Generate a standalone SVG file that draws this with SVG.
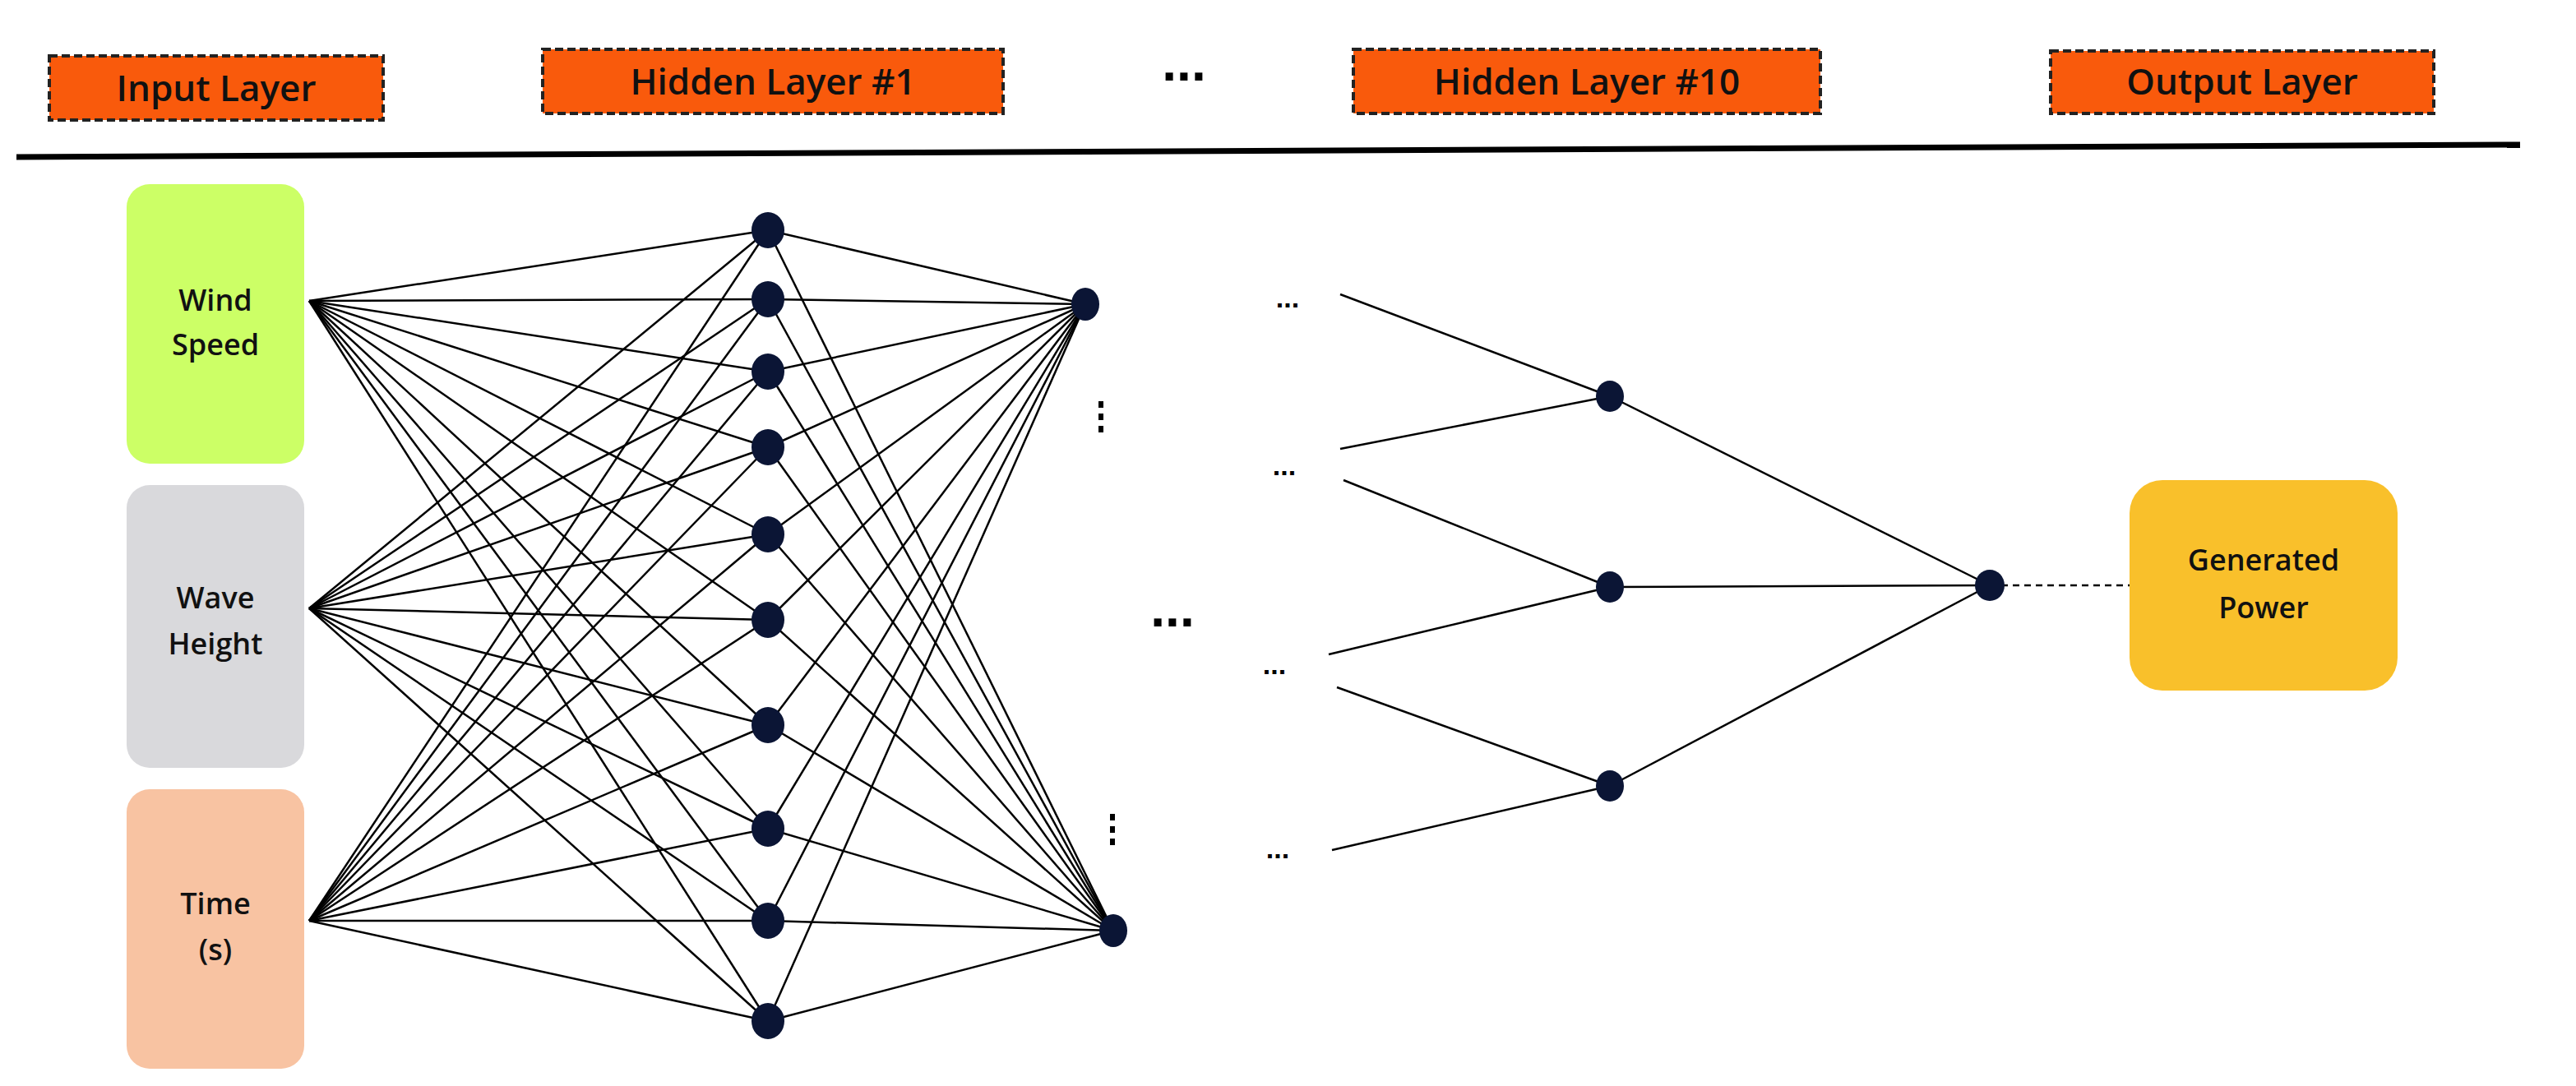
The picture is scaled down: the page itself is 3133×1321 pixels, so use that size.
<svg xmlns="http://www.w3.org/2000/svg" width="3133" height="1321" viewBox="0 0 3133 1321">
<style>
.hdr{fill:#F95A0C;stroke:#222;stroke-width:4;stroke-dasharray:10 5}
.ht{font-family:"Open Sans","Liberation Sans",sans-serif;font-size:44px;font-weight:600;fill:#111;text-anchor:middle}
.lt{font-family:"Open Sans","Liberation Sans",sans-serif;font-size:36px;font-weight:600;fill:#111;text-anchor:middle}
.dots{font-family:"Liberation Sans",sans-serif;font-weight:bold;fill:#000;text-anchor:middle}
.n{fill:#0B1535}
#edges line{stroke:#000;stroke-width:2.5}
</style>
<rect width="3133" height="1321" fill="#fff"/>
<g id="headers">
<g id="h-input"><rect class="hdr" x="60" y="68" width="406" height="78"/><text class="ht" x="263" y="123">Input Layer</text></g>
<g id="h-hidden1"><rect class="hdr" x="660" y="60" width="560" height="78"/><text class="ht" x="940" y="115">Hidden Layer #1</text></g>
<g id="h-hidden10"><rect class="hdr" x="1646" y="60" width="568" height="78"/><text class="ht" x="1930" y="115">Hidden Layer #10</text></g>
<g id="h-output"><rect class="hdr" x="2494" y="62" width="466" height="76"/><text class="ht" x="2727" y="115">Output Layer</text></g>
<text class="dots" x="1440" y="98" font-size="64">...</text>
</g>
<line x1="20" y1="191" x2="3065" y2="176" stroke="#000" stroke-width="7"/>
<g id="edges">
<g id="in-h1">
<line x1="376" y1="366" x2="934" y2="280"/><line x1="376" y1="366" x2="934" y2="364"/><line x1="376" y1="366" x2="934" y2="452"/><line x1="376" y1="366" x2="934" y2="544"/><line x1="376" y1="366" x2="934" y2="650"/><line x1="376" y1="366" x2="934" y2="754"/><line x1="376" y1="366" x2="934" y2="882"/><line x1="376" y1="366" x2="934" y2="1008"/><line x1="376" y1="366" x2="934" y2="1120"/><line x1="376" y1="366" x2="934" y2="1242"/>
<line x1="376" y1="740" x2="934" y2="280"/><line x1="376" y1="740" x2="934" y2="364"/><line x1="376" y1="740" x2="934" y2="452"/><line x1="376" y1="740" x2="934" y2="544"/><line x1="376" y1="740" x2="934" y2="650"/><line x1="376" y1="740" x2="934" y2="754"/><line x1="376" y1="740" x2="934" y2="882"/><line x1="376" y1="740" x2="934" y2="1008"/><line x1="376" y1="740" x2="934" y2="1120"/><line x1="376" y1="740" x2="934" y2="1242"/>
<line x1="376" y1="1120" x2="934" y2="280"/><line x1="376" y1="1120" x2="934" y2="364"/><line x1="376" y1="1120" x2="934" y2="452"/><line x1="376" y1="1120" x2="934" y2="544"/><line x1="376" y1="1120" x2="934" y2="650"/><line x1="376" y1="1120" x2="934" y2="754"/><line x1="376" y1="1120" x2="934" y2="882"/><line x1="376" y1="1120" x2="934" y2="1008"/><line x1="376" y1="1120" x2="934" y2="1120"/><line x1="376" y1="1120" x2="934" y2="1242"/>
</g>
<g id="h1-h2">
<line x1="934" y1="280" x2="1320" y2="370"/><line x1="934" y1="364" x2="1320" y2="370"/><line x1="934" y1="452" x2="1320" y2="370"/><line x1="934" y1="544" x2="1320" y2="370"/><line x1="934" y1="650" x2="1320" y2="370"/><line x1="934" y1="754" x2="1320" y2="370"/><line x1="934" y1="882" x2="1320" y2="370"/><line x1="934" y1="1008" x2="1320" y2="370"/><line x1="934" y1="1120" x2="1320" y2="370"/><line x1="934" y1="1242" x2="1320" y2="370"/>
<line x1="934" y1="280" x2="1354" y2="1132"/><line x1="934" y1="364" x2="1354" y2="1132"/><line x1="934" y1="452" x2="1354" y2="1132"/><line x1="934" y1="544" x2="1354" y2="1132"/><line x1="934" y1="650" x2="1354" y2="1132"/><line x1="934" y1="754" x2="1354" y2="1132"/><line x1="934" y1="882" x2="1354" y2="1132"/><line x1="934" y1="1008" x2="1354" y2="1132"/><line x1="934" y1="1120" x2="1354" y2="1132"/><line x1="934" y1="1242" x2="1354" y2="1132"/>
</g>
<g id="h9-h10">
<line x1="1630" y1="358" x2="1958" y2="482"/><line x1="1630" y1="546" x2="1958" y2="482"/>
<line x1="1634" y1="584" x2="1958" y2="714"/><line x1="1616" y1="796" x2="1958" y2="714"/>
<line x1="1626" y1="836" x2="1958" y2="956"/><line x1="1620" y1="1034" x2="1958" y2="956"/>
</g>
<g id="h10-out">
<line x1="1958" y1="482" x2="2420" y2="712"/><line x1="1958" y1="714" x2="2420" y2="712"/><line x1="1958" y1="956" x2="2420" y2="712"/>
<line x1="2420" y1="712" x2="2590" y2="712" style="stroke-dasharray:8 6"/>
</g>
</g>
<g id="inputs">
<g id="wind"><rect x="154" y="224" width="216" height="340" rx="28" fill="#CCFF66"/><text class="lt" x="262" y="378">Wind</text><text class="lt" x="262" y="432">Speed</text></g>
<g id="wave"><rect x="154" y="590" width="216" height="344" rx="28" fill="#D9D9DC"/><text class="lt" x="262" y="740">Wave</text><text class="lt" x="262" y="796">Height</text></g>
<g id="time"><rect x="154" y="960" width="216" height="340" rx="28" fill="#F8C3A2"/><text class="lt" x="262" y="1112">Time</text><text class="lt" x="262" y="1168">(s)</text></g>
</g>
<g id="hidden1">
<ellipse class="n" cx="934" cy="280" rx="20" ry="22"/><ellipse class="n" cx="934" cy="364" rx="20" ry="22"/><ellipse class="n" cx="934" cy="452" rx="20" ry="22"/><ellipse class="n" cx="934" cy="544" rx="20" ry="22"/><ellipse class="n" cx="934" cy="650" rx="20" ry="22"/><ellipse class="n" cx="934" cy="754" rx="20" ry="22"/><ellipse class="n" cx="934" cy="882" rx="20" ry="22"/><ellipse class="n" cx="934" cy="1008" rx="20" ry="22"/><ellipse class="n" cx="934" cy="1120" rx="20" ry="22"/><ellipse class="n" cx="934" cy="1242" rx="20" ry="22"/>
</g>
<g id="hidden2">
<ellipse class="n" cx="1320" cy="370" rx="17" ry="20"/><ellipse class="n" cx="1354" cy="1132" rx="17" ry="20"/>
<rect x="1336" y="488" width="6" height="8" fill="#000"/><rect x="1336" y="503" width="6" height="8" fill="#000"/><rect x="1336" y="518" width="6" height="8" fill="#000"/>
<rect x="1350" y="990" width="6" height="8" fill="#000"/><rect x="1350" y="1005" width="6" height="8" fill="#000"/><rect x="1350" y="1020" width="6" height="8" fill="#000"/>
</g>
<g id="ellipses">
<text class="dots" x="1566" y="374" font-size="34">...</text>
<text class="dots" x="1562" y="578" font-size="34">...</text>
<text class="dots" x="1550" y="820" font-size="34">...</text>
<text class="dots" x="1554" y="1044" font-size="34">...</text>
<text class="dots" x="1426" y="762" font-size="64">...</text>
</g>
<g id="hidden10">
<ellipse class="n" cx="1958" cy="482" rx="17" ry="19"/><ellipse class="n" cx="1958" cy="714" rx="17" ry="19"/><ellipse class="n" cx="1958" cy="956" rx="17" ry="19"/>
</g>
<g id="out-node"><ellipse class="n" cx="2420" cy="712" rx="18" ry="19"/></g>
<g id="power"><rect x="2590" y="584" width="326" height="256" rx="40" fill="#F9C02B"/><text class="lt" x="2753" y="694">Generated</text><text class="lt" x="2753" y="752">Power</text></g>
</svg>
